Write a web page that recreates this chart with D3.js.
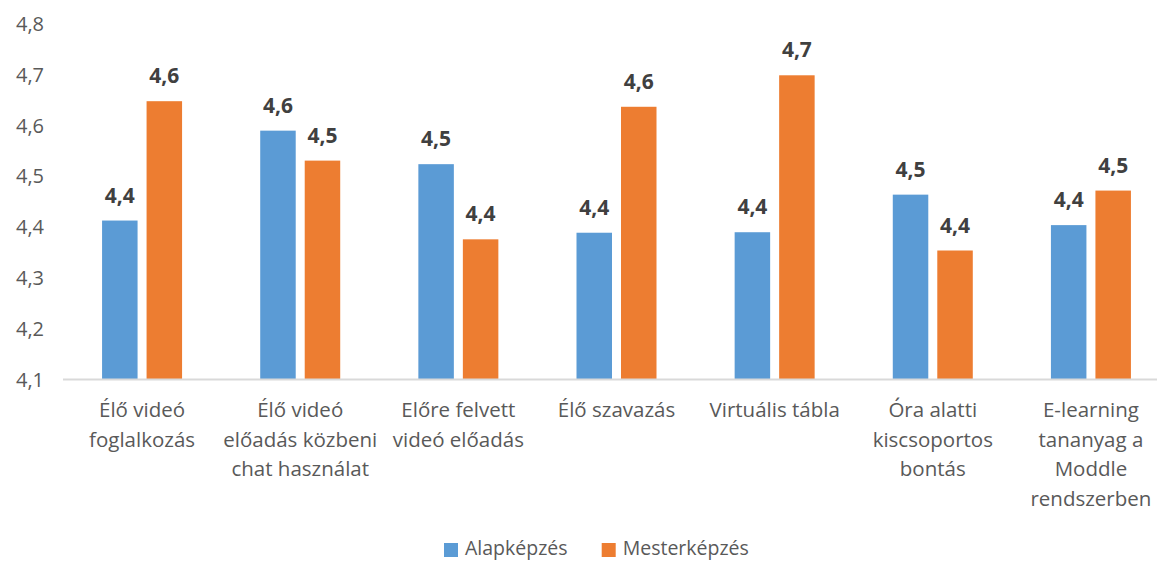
<!DOCTYPE html>
<html><head><meta charset="utf-8">
<script src="https://cdn.jsdelivr.net/npm/d3@7"></script>
<style>body{margin:0;background:#fff}svg{display:block}</style>
</head><body><svg id="c" width="1157" height="561"></svg>
<script>
const categories = [
  ["Élő videó","foglalkozás"],
  ["Élő videó","előadás közbeni","chat használat"],
  ["Előre felvett","videó előadás"],
  ["Élő szavazás"],
  ["Virtuális tábla"],
  ["Óra alatti","kiscsoportos","bontás"],
  ["E-learning","tananyag a","Moddle","rendszerben"]
];
const seriesNames = ["Alapképzés","Mesterképzés"];
const alapkepzes = [4.413,4.590,4.524,4.389,4.390,4.464,4.404];
const mesterkepzes = [4.648,4.531,4.376,4.637,4.699,4.354,4.472];
const yTicks = [4.1,4.2,4.3,4.4,4.5,4.6,4.7,4.8];
const colors = ["#5B9BD5","#ED7D31"];

const svg = d3.select("#c");
const font = "'Open Sans', sans-serif";
const x0 = d3.scaleBand().domain(d3.range(categories.length)).range([63,1170]).paddingInner(0).paddingOuter(0);
const y = d3.scaleLinear().domain([4.1,4.8]).range([379.5,24]);
const bw = 35.5, gap = 9;
const fmt = v => d3.format(".1f")(v).replace(".",",");

// y tick labels
svg.append("g").selectAll("text").data(yTicks).join("text")
  .attr("x",44).attr("y",d=>y(d)).attr("dy","0.35em").attr("text-anchor","end")
  .attr("font-family",font).attr("font-size",20).attr("fill","#595959")
  .text(d=>fmt(d));

const series = [alapkepzes, mesterkepzes];
series.forEach((vals,si)=>{
  const g = svg.append("g");
  g.selectAll("rect").data(vals).join("rect")
    .attr("x",(d,i)=>x0(i)+x0.bandwidth()/2 + (si===0 ? -gap/2-bw : gap/2))
    .attr("y",d=>y(d)).attr("width",bw).attr("height",d=>y(4.1)-y(d))
    .attr("fill",colors[si]);
  g.selectAll("text").data(vals).join("text")
    .attr("x",(d,i)=>x0(i)+x0.bandwidth()/2 + (si===0 ? -gap/2-bw/2 : gap/2+bw/2))
    .attr("y",d=>y(d)-18).attr("text-anchor","middle")
    .attr("font-family",font).attr("font-weight","bold").attr("font-size",21).attr("fill","#404040")
    .text(d=>fmt(d));
});

// baseline
svg.append("line").attr("x1",63).attr("x2",1170).attr("y1",y(4.1)).attr("y2",y(4.1))
  .attr("stroke","#D9D9D9").attr("stroke-width",2);

// category labels
const cg = svg.append("g");
categories.forEach((lines,i)=>{
  const t = cg.append("text").attr("text-anchor","middle")
    .attr("font-family",font).attr("font-size",20.5).attr("fill","#595959");
  lines.forEach((ln,j)=>{
    t.append("tspan").attr("x",x0(i)+x0.bandwidth()/2).attr("y",410+j*29.5).attr("dy","0.35em").text(ln);
  });
});

// legend
const legend = svg.append("g");
const lx = [444, 601.7];
seriesNames.forEach((n,i)=>{
  legend.append("rect").attr("x",lx[i]).attr("y",543).attr("width",14).attr("height",14).attr("fill",colors[i]);
  legend.append("text").attr("x",lx[i]+21).attr("y",548).attr("dy","0.35em")
    .attr("font-family",font).attr("font-size",19.5).attr("fill","#595959").text(n);
});
</script>
</body></html>
